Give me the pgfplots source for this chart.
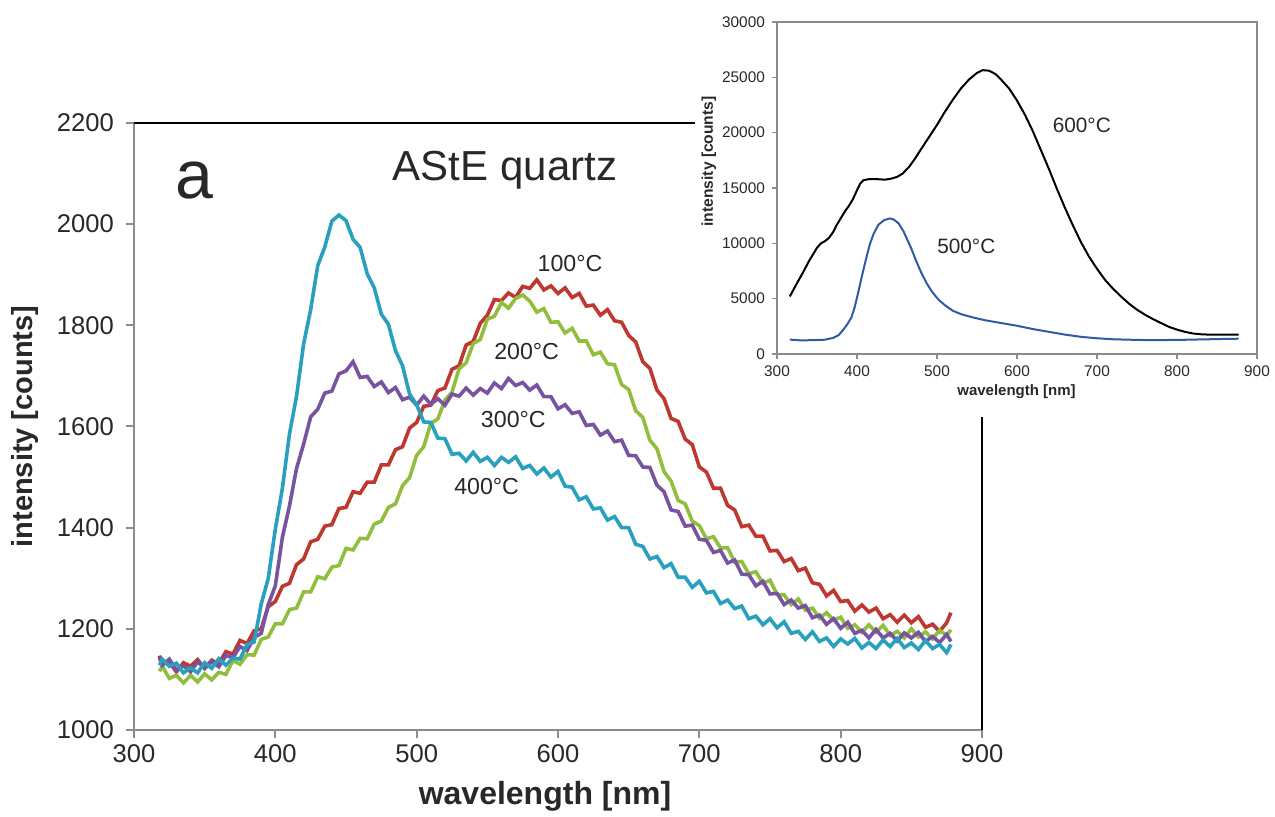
\documentclass[border=0pt]{standalone}
\usepackage{fontspec}
\setmainfont{Liberation Sans}
\usepackage{pgfplots}
\usepackage{pgfplotstable}
\pgfplotsset{compat=1.18}
\definecolor{cred}{RGB}{190,56,48}
\definecolor{cgreen}{RGB}{146,190,62}
\definecolor{cpurple}{RGB}{120,84,160}
\definecolor{ccyan}{RGB}{40,160,190}
\definecolor{cblue}{RGB}{50,90,160}
\definecolor{axgray}{RGB}{140,140,140}
\definecolor{txt}{RGB}{40,40,40}

\pgfplotstableread{
x y
318 1147
320 1130
325 1134
330 1115
335 1133
340 1126
345 1139
350 1122
355 1138
360 1131
365 1155
370 1150
375 1177
380 1171
385 1196
390 1200
395 1244
400 1254
405 1284
410 1290
415 1327
420 1338
425 1372
430 1377
435 1403
440 1406
445 1438
450 1440
455 1471
460 1468
465 1490
470 1490
475 1524
480 1524
485 1554
490 1560
495 1597
500 1608
505 1640
510 1642
515 1671
520 1676
525 1713
530 1720
535 1761
540 1768
545 1804
550 1820
555 1851
560 1849
565 1864
570 1855
575 1877
580 1873
585 1890
590 1870
595 1878
600 1863
605 1874
610 1855
615 1863
620 1838
625 1840
630 1820
635 1831
640 1809
645 1806
650 1780
655 1767
660 1728
665 1715
670 1672
675 1655
680 1616
685 1610
690 1575
695 1564
700 1520
705 1510
710 1478
715 1478
720 1444
725 1435
730 1402
735 1405
740 1383
745 1383
750 1354
755 1355
760 1333
765 1339
770 1315
775 1320
780 1291
785 1288
790 1265
795 1276
800 1254
805 1256
810 1235
815 1247
820 1233
825 1241
830 1220
835 1228
840 1213
845 1227
850 1212
855 1224
860 1203
865 1209
870 1195
875 1212
878 1232
}\redtab

\pgfplotstableread{
x y
318 1116
320 1126
325 1102
330 1108
335 1093
340 1108
345 1095
350 1111
355 1099
360 1114
365 1110
370 1137
375 1130
380 1149
385 1148
390 1179
395 1184
400 1210
405 1210
410 1238
415 1241
420 1273
425 1273
430 1303
435 1299
440 1322
445 1325
450 1359
455 1356
460 1379
465 1378
470 1407
475 1413
480 1440
485 1447
490 1483
495 1499
500 1543
505 1560
510 1606
515 1615
520 1652
525 1668
530 1714
535 1726
540 1764
545 1772
550 1812
555 1818
560 1845
565 1834
570 1853
575 1860
580 1848
585 1826
590 1833
595 1806
600 1807
605 1785
610 1794
615 1769
620 1769
625 1742
630 1747
635 1724
640 1722
645 1683
650 1673
655 1631
660 1618
665 1573
670 1556
675 1511
680 1492
685 1454
690 1447
695 1413
700 1404
705 1378
710 1382
715 1360
720 1360
725 1332
730 1333
735 1309
740 1313
745 1290
750 1296
755 1268
760 1267
765 1248
770 1259
775 1237
780 1241
785 1221
790 1232
795 1217
800 1223
805 1201
810 1208
815 1193
820 1208
825 1193
830 1207
835 1187
840 1195
845 1182
850 1200
855 1184
860 1194
865 1180
870 1197
875 1187
878 1198
}\greentab

\pgfplotstableread{
x y
318 1143
320 1128
325 1140
330 1118
335 1127
340 1115
345 1135
350 1122
355 1135
360 1125
365 1147
370 1143
375 1165
380 1157
385 1183
390 1191
395 1248
400 1285
405 1381
410 1443
415 1517
420 1565
425 1619
430 1634
435 1666
440 1670
445 1704
450 1710
455 1728
460 1697
465 1699
470 1679
475 1688
480 1667
485 1677
490 1653
495 1658
500 1642
505 1660
510 1644
515 1655
520 1642
525 1664
530 1660
535 1676
540 1662
545 1675
550 1666
555 1686
560 1675
565 1695
570 1681
575 1687
580 1672
585 1682
590 1659
595 1659
600 1635
605 1643
610 1626
615 1629
620 1602
625 1604
630 1583
635 1591
640 1570
645 1573
650 1543
655 1542
660 1520
665 1519
670 1484
675 1471
680 1435
685 1432
690 1403
695 1405
700 1377
705 1375
710 1351
715 1355
720 1330
725 1336
730 1308
735 1307
740 1285
745 1294
750 1269
755 1270
760 1248
765 1257
770 1241
775 1246
780 1222
785 1227
790 1209
795 1220
800 1201
805 1213
810 1191
815 1197
820 1182
825 1199
830 1182
835 1191
840 1176
845 1192
850 1182
855 1193
860 1175
865 1185
870 1173
875 1189
878 1175
}\purpletab

\pgfplotstableread{
x y
318 1128
320 1140
325 1126
330 1132
335 1113
340 1123
345 1113
350 1133
355 1122
360 1141
365 1128
370 1142
375 1140
380 1169
385 1174
390 1249
395 1300
400 1397
405 1478
410 1585
415 1660
420 1763
425 1831
430 1918
435 1955
440 2006
445 2018
450 2007
455 1970
460 1954
465 1902
470 1874
475 1822
480 1802
485 1750
490 1720
495 1664
500 1643
505 1609
510 1608
515 1577
520 1576
525 1545
530 1547
535 1532
540 1549
545 1531
550 1539
555 1523
560 1539
565 1529
570 1540
575 1517
580 1523
585 1506
590 1518
595 1500
600 1511
605 1482
610 1480
615 1455
620 1461
625 1437
630 1439
635 1415
640 1422
645 1400
650 1400
655 1367
660 1363
665 1338
670 1343
675 1321
680 1329
685 1302
690 1302
695 1282
700 1294
705 1271
710 1274
715 1250
720 1257
725 1240
730 1245
735 1220
740 1225
745 1208
750 1220
755 1202
760 1214
765 1191
770 1195
775 1179
780 1194
785 1175
790 1182
795 1165
800 1180
805 1170
810 1181
815 1162
820 1173
825 1161
830 1178
835 1165
840 1181
845 1163
850 1172
855 1159
860 1177
865 1161
870 1169
875 1153
878 1169
}\cyantab

\pgfplotstableread{
x y
316 5200
325 6400
332 7300
340 8400
350 9600
355 10000
360 10200
365 10500
370 11000
375 11700
380 12300
385 12900
390 13400
395 14000
400 14800
404 15400
408 15700
415 15800
425 15800
435 15750
443 15850
450 16000
457 16300
465 16900
472 17600
480 18500
490 19600
500 20700
510 21900
520 23000
530 24000
540 24800
550 25400
557 25650
565 25600
573 25300
580 24800
590 24000
600 22900
610 21600
620 20100
630 18400
640 16700
650 14900
660 13200
670 11600
680 10100
690 8800
700 7700
710 6700
720 5900
730 5200
740 4550
750 4000
760 3550
770 3150
780 2800
790 2450
800 2200
810 2000
820 1850
830 1780
840 1750
850 1740
860 1740
870 1740
877 1750
}\blacktab

\pgfplotstableread{
x y
316 1300
330 1230
345 1250
360 1290
370 1450
377 1700
383 2200
388 2700
393 3300
397 4200
401 5400
406 7000
411 8500
416 9900
421 10900
427 11700
434 12100
441 12250
446 12150
452 11800
458 11100
463 10300
468 9500
474 8400
480 7400
487 6400
494 5600
502 4900
510 4400
520 3900
530 3600
545 3300
560 3050
580 2800
600 2550
620 2250
640 2000
660 1750
680 1550
700 1420
720 1330
740 1290
760 1260
780 1260
800 1270
820 1300
840 1330
860 1360
877 1380
}\bluetab

\begin{document}
\begin{tikzpicture}
\useasboundingbox (0,0) rectangle (637.5pt,408.5pt);
\begin{axis}[
  at={(67pt,43.5pt)}, anchor=south west,
  width=424pt, height=303.5pt, scale only axis,
  xmin=300, xmax=900, ymin=1000, ymax=2200,
  xtick={300,400,...,900}, ytick={1000,1200,...,2200},
  axis x line*=bottom, axis y line*=left,
  axis line style={draw=axgray, line width=1pt, -},
  tick align=outside, major tick length=4pt,
  every tick/.style={axgray, line width=1pt},
  clip=false,
  /pgf/number format/assume math mode=true,
  /pgf/number format/1000 sep={},
  ticklabel style={font=\fontsize{12.8}{15}\selectfont, text=txt},
  yticklabel style={xshift=-2.5pt},
  xlabel={\textbf{wavelength [nm]}},
  ylabel={\textbf{intensity [counts]}},
  xlabel style={at={(axis description cs:0.4847,-0.110)}, anchor=center, font=\fontsize{16}{19}\selectfont, text=txt},
  ylabel style={at={(axis description cs:-0.1285,0.5)}, anchor=center, font=\fontsize{14.5}{17}\selectfont, text=txt},
]
\draw[black, line width=1.1pt] (axis cs:300,2200) -- (axis cs:900,2200) -- (axis cs:900,1000);
\addplot[cred, line width=1.8pt] table[x=x,y=y] {\redtab};
\addplot[cgreen, line width=1.8pt] table[x=x,y=y] {\greentab};
\addplot[cpurple, line width=1.8pt] table[x=x,y=y] {\purpletab};
\addplot[ccyan, line width=1.8pt] table[x=x,y=y] {\cyantab};
\node[text=txt, font=\fontsize{34}{40}\selectfont] at (axis cs:343,2087) {a};
\node[text=txt, font=\fontsize{21}{25}\selectfont] at (axis cs:562.5,2107) {AStE quartz};
\node[text=txt, font=\fontsize{11.6}{14}\selectfont] at (axis cs:608.5,1923) {100°C};
\node[text=txt, font=\fontsize{11.6}{14}\selectfont] at (axis cs:577.8,1748) {200°C};
\node[text=txt, font=\fontsize{11.6}{14}\selectfont] at (axis cs:568.4,1613) {300°C};
\node[text=txt, font=\fontsize{11.6}{14}\selectfont] at (axis cs:549.5,1481) {400°C};
\end{axis}
\fill[white] (347.5pt,200pt) rectangle (637.5pt,408.5pt);
\begin{axis}[
  at={(388.5pt,231.5pt)}, anchor=south west,
  width=240pt, height=166pt, scale only axis,
  xmin=300, xmax=900, ymin=0, ymax=30000,
  xtick={300,400,...,900}, ytick={0,5000,...,30000},
  scaled y ticks=false,
  axis line style={draw=axgray, line width=0.8pt},
  tick align=outside, major tick length=2.5pt,
  every tick/.style={axgray, line width=0.8pt},
  xtick pos=left, ytick pos=left,
  /pgf/number format/assume math mode=true,
  /pgf/number format/1000 sep={},
  ticklabel style={font=\fontsize{7.7}{9}\selectfont, text=txt},
  xlabel={\textbf{wavelength [nm]}},
  ylabel={\textbf{intensity [counts]}},
  xlabel style={at={(axis description cs:0.499,-0.114)}, anchor=center, font=\fontsize{7.5}{9}\selectfont, text=txt},
  ylabel style={at={(axis description cs:-0.142,0.58)}, anchor=center, font=\fontsize{7.8}{9}\selectfont, text=txt},
]
\addplot[black, line width=1pt] table[x=x,y=y] {\blacktab};
\addplot[cblue, line width=1pt] table[x=x,y=y] {\bluetab};
\node[text=txt, font=\fontsize{10.4}{12}\selectfont] at (axis cs:681,20640) {600°C};
\node[text=txt, font=\fontsize{10.4}{12}\selectfont] at (axis cs:536.6,9690) {500°C};
\end{axis}
\end{tikzpicture}
\end{document}
